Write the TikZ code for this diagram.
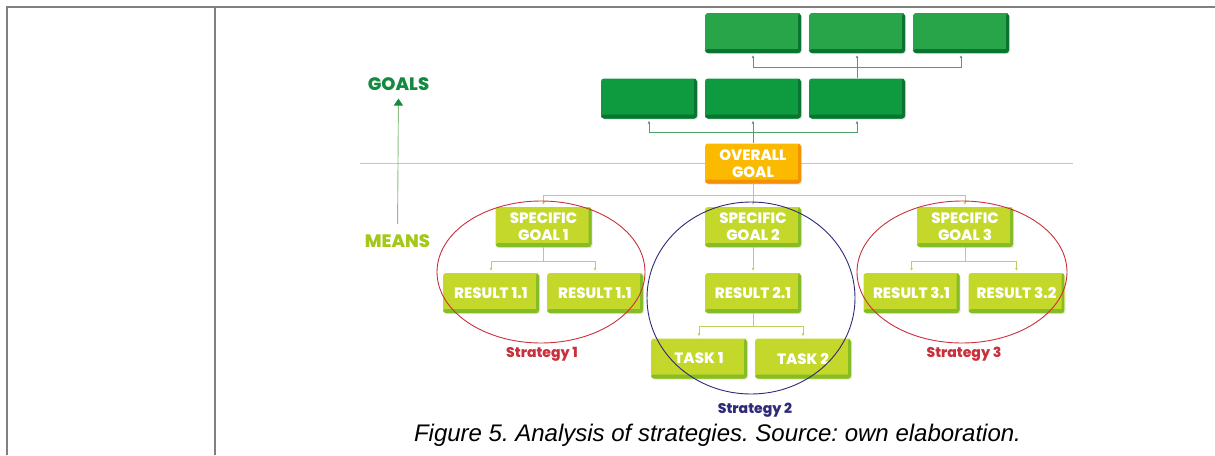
\documentclass[tikz,border=0pt]{standalone}
\usepackage{fontspec}
\setsansfont{Poppins}
\newfontfamily\heavyfont{Poppins ExtraBold}
\newfontfamily\capfont{Liberation Sans}
\usetikzlibrary{arrows.meta,shadows}
\frenchspacing

\definecolor{leafgreen}{HTML}{27A548}
\definecolor{leafmid}{HTML}{0E9A3E}
\definecolor{leafdark}{HTML}{0B7430}
\definecolor{leafline}{HTML}{4DA06A}
\definecolor{limebox}{HTML}{C3D82A}
\definecolor{limedark}{HTML}{86BC25}
\definecolor{limeline}{HTML}{BCD05A}
\definecolor{limetext}{HTML}{A5C71A}
\definecolor{sunbox}{HTML}{FBBA00}
\definecolor{sundark}{HTML}{F39200}
\definecolor{stratred}{HTML}{C8303C}
\definecolor{stratblue}{HTML}{2E2A78}
\definecolor{tablegray}{HTML}{808080}
\definecolor{divtan}{HTML}{DDBFA8}
\definecolor{axisgreen}{HTML}{8DBE86}
\definecolor{goalstext}{HTML}{138A3F}

\begin{document}
\begin{tikzpicture}[x=1pt, y=-1pt,
    box/.style={rounded corners=3pt, minimum width=96pt, minimum height=40pt, inner sep=0pt,
      align=center, text=white, font=\heavyfont\fontsize{15}{17}\selectfont,
      drop shadow={shadow xshift=1.2pt, shadow yshift=-1.2pt, opacity=0.2}},
    edge/.style={path picture={
      \fill[#1] (path picture bounding box.south west) rectangle ([yshift=4pt]path picture bounding box.south east);
      \fill[#1] ([xshift=-3pt]path picture bounding box.south east) rectangle (path picture bounding box.north east);}},
    gbox/.style={box, fill=leafgreen, edge=leafdark},
    mbox/.style={box, fill=leafmid, edge=leafdark},
    obox/.style={box, fill=sunbox, edge=sundark},
    lbox/.style={box, fill=limebox, edge=limedark},
    gline/.style={leafline, line width=0.8pt},
    lline/.style={limeline, line width=0.8pt},
    garrow/.style={-{Latex[length=3pt,width=3pt]}, shorten >=2pt},
    stratlabel/.style={font=\heavyfont\fontsize{14}{16}\selectfont}]
    \useasboundingbox (0,0) rectangle (1215,455);
    % table frame
    \draw[tablegray, line width=2pt] (7,455) -- (7,7) -- (1215,7);
    \draw[tablegray, line width=2pt] (215,7) -- (215,455);
    % divider between goals and means
    \draw[divtan, line width=0.8pt] (360,163) -- (1073,163);
    % goals / means axis
    \node[text=goalstext, font=\heavyfont\fontsize{18}{20}\selectfont] (goals) at (398.5,84.5) {GOALS};
    \node[text=limetext, font=\heavyfont\fontsize{18}{20}\selectfont] (means) at (397.5,241) {MEANS};
    \draw[axisgreen, line width=0.9pt, -{Triangle[length=7pt,width=9pt,color=goalstext]}, shorten <=7pt, shorten >=4pt] (means.north) -- (goals.south);
    % goal boxes
    \node[gbox] (top1) at (753,33) {};
    \node[gbox] (top2) at (857,33) {};
    \node[gbox] (top3) at (961,33) {};
    \node[mbox] (mid1) at (649,98.5) {};
    \node[mbox] (mid2) at (753,98.5) {};
    \node[mbox] (mid3) at (857,98.5) {};
    \node[obox] (overall) at (753,163.5) {OVERALL\\GOAL};
    % means boxes
    \node[lbox] (spec1) at (543.5,227) {SPECIFIC\\GOAL 1};
    \node[lbox] (spec2) at (753,227) {SPECIFIC\\GOAL 2};
    \node[lbox] (spec3) at (965,227) {SPECIFIC\\GOAL 3};
    \node[lbox] (res11) at (491,293) {RESULT 1.1};
    \node[lbox] (res12) at (595,293) {RESULT 1.1};
    \node[lbox] (res21) at (753,293) {RESULT 2.1};
    \node[lbox] (res31) at (911.5,293) {RESULT 3.1};
    \node[lbox] (res32) at (1016.5,293) {RESULT 3.2};
    \node[lbox] (task1) at (699,358.5) {TASK 1};
    \node[lbox] (task2) at (803,358.5) {TASK 2};
    % goal connectors
    \draw[gline] (overall.north) -- (overall.north |- 0,132) coordinate (gj1);
    \draw[gline, garrow] (gj1) -| (mid1.south);
    \draw[gline, garrow] (gj1) -- (mid2.south);
    \draw[gline, garrow] (gj1) -| (mid3.south);
    \draw[gline, garrow] (mid3.north) -- (top2.south);
    \coordinate (gj2) at (mid3.north |- 0,67);
    \draw[gline, garrow] (gj2) -| (top1.south);
    \draw[gline, garrow] (gj2) -| (top3.south);
    % means connectors
    \draw[lline, garrow] (overall.south) -- (spec2.north);
    \coordinate (lj1) at (overall.south |- 0,195);
    \draw[lline, garrow] (lj1) -| (spec1.north);
    \draw[lline, garrow] (lj1) -| (spec3.north);
    \draw[lline] (spec1.south) -- (spec1.south |- 0,261) coordinate (lj2);
    \draw[lline, garrow] (lj2) -| (res11.north);
    \draw[lline, garrow] (lj2) -| (res12.north);
    \draw[lline, garrow] (spec2.south) -- (res21.north);
    \draw[lline] (res21.south) -- (res21.south |- 0,326) coordinate (lj3);
    \draw[lline, garrow] (lj3) -| (task1.north);
    \draw[lline, garrow] (lj3) -| (task2.north);
    \draw[lline] (spec3.south) -- (spec3.south |- 0,261) coordinate (lj4);
    \draw[lline, garrow] (lj4) -| (res31.north);
    \draw[lline, garrow] (lj4) -| (res32.north);
    % strategies
    \draw[stratred, line width=0.9pt] (541,272) ellipse [x radius=104, y radius=71];
    \draw[stratblue, line width=0.9pt] (751,298) ellipse [x radius=104, y radius=96];
    \draw[stratred, line width=0.9pt] (962,272) ellipse [x radius=105, y radius=71];
    \node[stratlabel, text=stratred] (strat1) at (542,354) {Strategy 1};
    \node[stratlabel, text=stratblue] (strat2) at (755,410) {Strategy 2};
    \node[stratlabel, text=stratred] (strat3) at (964,354) {Strategy 3};
    \node[font=\capfont\itshape\fontsize{24}{28}\selectfont] (caption) at (717.5,435) {Figure 5. Analysis of strategies. Source: own elaboration.};
\end{tikzpicture}
\end{document}
